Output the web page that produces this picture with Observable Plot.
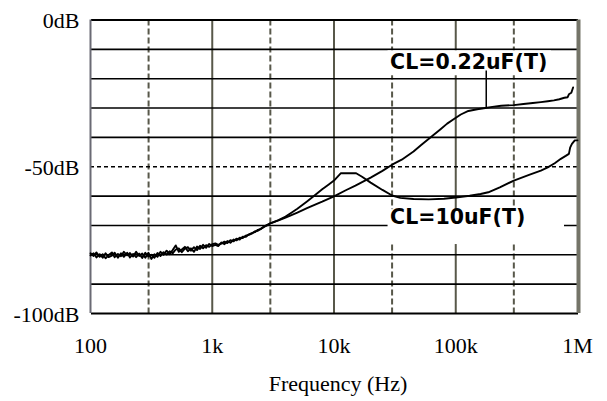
<!DOCTYPE html>
<html><head><meta charset="utf-8">
<script src="https://cdn.jsdelivr.net/npm/d3@7"></script>
<script src="https://cdn.jsdelivr.net/npm/@observablehq/plot@0.6"></script>
<style>
body{margin:0;background:#fff}
</style>
</head><body><div id="chart"></div>
<script>
// Frequencies (Hz) and levels (dB)
const freqLow = [100,106,112,119,126,133,141,150,158,168,178,188,200,211,224,237,251,266,282,299,316,335,355,376,398,422,447,473,501,531,562,596,631,668,708,750,794,841,891,944,1000];
const dbLowA = [-79.5,-80.4,-79.2,-80.7,-79.8,-81.2,-80.1,-79.2,-80.8,-79.7,-80.5,-79.0,-80.2,-79.4,-80.6,-79.0,-80.4,-79.6,-81.0,-79.3,-81.4,-79.8,-80.7,-79.0,-80.0,-78.6,-79.8,-78.4,-76.8,-79.0,-78.2,-77.3,-78.8,-77.8,-79.0,-77.2,-78.0,-76.6,-77.6,-76.3,-77.0];
const dbLowB = [-80.2,-79.5,-80.9,-79.8,-81.0,-79.5,-80.8,-80.3,-79.3,-81.0,-79.5,-80.7,-79.3,-80.9,-79.7,-80.8,-79.6,-81.1,-79.3,-80.6,-80.0,-81.0,-79.4,-80.4,-79.1,-79.9,-78.8,-79.5,-78.2,-77.8,-79.1,-77.9,-77.4,-78.6,-77.4,-78.4,-76.9,-77.8,-76.7,-77.3,-76.4];
const freqMid = [1060,1120,1190,1260,1330,1410,1500,1580,1680,1780,1880,2000,2110,2240,2370,2510,2660,2820,3000];
const dbMidA = [-76.6,-77.0,-75.8,-76.4,-75.3,-75.9,-74.8,-75.1,-74.2,-74.3,-73.5,-73.2,-72.8,-72.0,-71.8,-71.1,-70.5,-70.0,-69.3];
const dbMidB = [-76.1,-76.6,-76.2,-75.5,-76.0,-75.0,-75.4,-74.5,-74.8,-73.8,-73.9,-73.0,-72.6,-72.3,-71.5,-71.2,-70.4,-69.8,-69.3];
const freqHighA = [3500,4000,5000,6000,7000,8000,10000,12500,15000,20000,25000,30000,36000,45000,52000,63000,75000,85000,96000,110000,127000,150000,175000,200000,236000,300000,360000,430000,500000,570000,640000,710000,780000,830000,850000,890000,920000];
const dbHighA = [-68.3,-67.3,-65.6,-64.1,-62.9,-61.9,-60.1,-58.0,-56.4,-53.7,-51.4,-49.3,-47.6,-44.8,-42.6,-39.8,-37.2,-35.3,-33.8,-32.2,-31.0,-30.4,-30.0,-29.6,-29.2,-29.0,-28.6,-28.3,-28.0,-27.7,-27.4,-27.0,-26.5,-26.3,-25.3,-24.8,-23.0];
const freqHighB = [3500,4000,4500,5000,6000,7000,8000,9000,10000,11400,13000,15200,17000,20000,25000,30000,35000,45000,60000,80000,100000,130000,160000,185000,230000,300000,400000,500000,570000,650000,730000,800000,850000,870000,900000,950000,1000000];
const dbHighB = [-68.2,-67.0,-65.6,-64.3,-61.8,-59.6,-57.7,-56.1,-54.7,-52.2,-52.2,-52.2,-53.4,-55.4,-57.9,-59.8,-60.6,-61.0,-61.1,-60.9,-60.5,-59.9,-59.3,-58.7,-57.0,-54.7,-52.8,-51.3,-50.2,-48.8,-47.3,-46.3,-45.6,-43.5,-42.2,-41.0,-41.0];

// Axes
const xDecades = [100, 1000, 10000, 100000, 1000000];
const xTickLabels = ["100", "1k", "10k", "100k", "1M"];
const xThirds = [300, 3000, 30000, 300000];
const yTickValues = [0, -50, -100];
const yTickLabels = ["0dB", "-50dB", "-100dB"];
const ySolidGrid = [-10, -20, -30, -40, -60, -70, -80, -90];
const yDashedGrid = [-50];
const xTitle = "Frequency (Hz)";

// Annotations
const annotTexts = ["CL=0.22uF(T)", "CL=10uF(T)"];
const annotFreq = [28900, 28900];
const annotDb = [-14.4, -67.4];
const boxF1 = [27800, 27800], boxF2 = [611000, 782000];
const boxDb1 = [-10.5, -64.6], boxDb2 = [-19.0, -76.5];
const leaderFreq = [178000], leaderDb1 = [-17.4], leaderDb2 = [-29.8];

const seriesA = [...freqLow.map((f,i)=>({f, db: dbLowA[i]})), ...freqMid.map((f,i)=>({f, db: dbMidA[i]})), ...freqHighA.map((f,i)=>({f, db: dbHighA[i]}))];
const seriesB = [...freqLow.map((f,i)=>({f, db: dbLowB[i]})), ...freqMid.map((f,i)=>({f, db: dbMidB[i]})), ...freqHighB.map((f,i)=>({f, db: dbHighB[i]}))];
const idx = (a) => a.map((_, i) => i);

const serif = "Liberation Serif";
const sans = "DejaVu Sans";
const vColor = "#58584a";
const plot = Plot.plot({
  width: 607, height: 401,
  marginLeft: 90, marginRight: 30, marginTop: 19.5, marginBottom: 88,
  x: {type: "log", domain: [100, 1e6], axis: null},
  y: {domain: [-100, 0], axis: null},
  marks: [
    Plot.ruleX(xThirds, {stroke: vColor, strokeWidth: 2, strokeDasharray: "6,3"}),
    Plot.ruleX(xDecades.slice(1, 4), {stroke: vColor, strokeWidth: 2}),
    Plot.ruleY(ySolidGrid, {x1: 100, x2: 1e6, stroke: "#000", strokeWidth: 1.6, dx: 1}),
    Plot.ruleY(yDashedGrid, {x1: 100, x2: 1e6, stroke: "#000", strokeWidth: 1.3, strokeDasharray: "4,3"}),
    Plot.ruleY([0, -100], {x1: 100, x2: 1e6, stroke: "#000", strokeWidth: 2, dx: 1}),
    Plot.ruleX([100], {stroke: "#6a6a74", strokeWidth: 2}),
    Plot.ruleX([1e6], {stroke: "#747468", strokeWidth: 4, dx: 1}),
    Plot.rect(idx(annotTexts), {x1: i => boxF1[i], x2: i => boxF2[i], y1: i => boxDb1[i], y2: i => boxDb2[i], fill: "#fff"}),
    Plot.line(seriesA, {x: "f", y: "db", stroke: "#000", strokeWidth: 1.9}),
    Plot.line(seriesB, {x: "f", y: "db", stroke: "#000", strokeWidth: 1.9}),
    Plot.ruleX(idx(leaderFreq), {x: i => leaderFreq[i], y1: i => leaderDb1[i], y2: i => leaderDb2[i], stroke: "#000", strokeWidth: 1.5}),
    Plot.text(idx(annotTexts), {x: i => annotFreq[i], y: i => annotDb[i], text: i => annotTexts[i], textAnchor: "start", fontWeight: "bold", fontSize: 20.5, fill: "#000"}),
    Plot.text(idx(xDecades), {x: i => xDecades[i], text: i => xTickLabels[i], frameAnchor: "bottom", dy: 32, lineAnchor: "middle", fontSize: 22, fill: "#000"}),
    Plot.text(idx(yTickValues), {y: i => yTickValues[i], text: i => yTickLabels[i], frameAnchor: "left", dx: -11, dy: 1, textAnchor: "end", fontSize: 22, fill: "#000"}),
    Plot.text([xTitle], {frameAnchor: "bottom", dy: 70, dx: 4, lineAnchor: "middle", fontSize: 22, fill: "#000"})
  ]
});
d3.select(plot).selectAll("text").each(function() {
  const isAnnot = annotTexts.includes(this.textContent);
  d3.select(this).attr("font-family", isAnnot ? sans : serif);
});
document.getElementById("chart").appendChild(plot);
</script>
</body></html>
